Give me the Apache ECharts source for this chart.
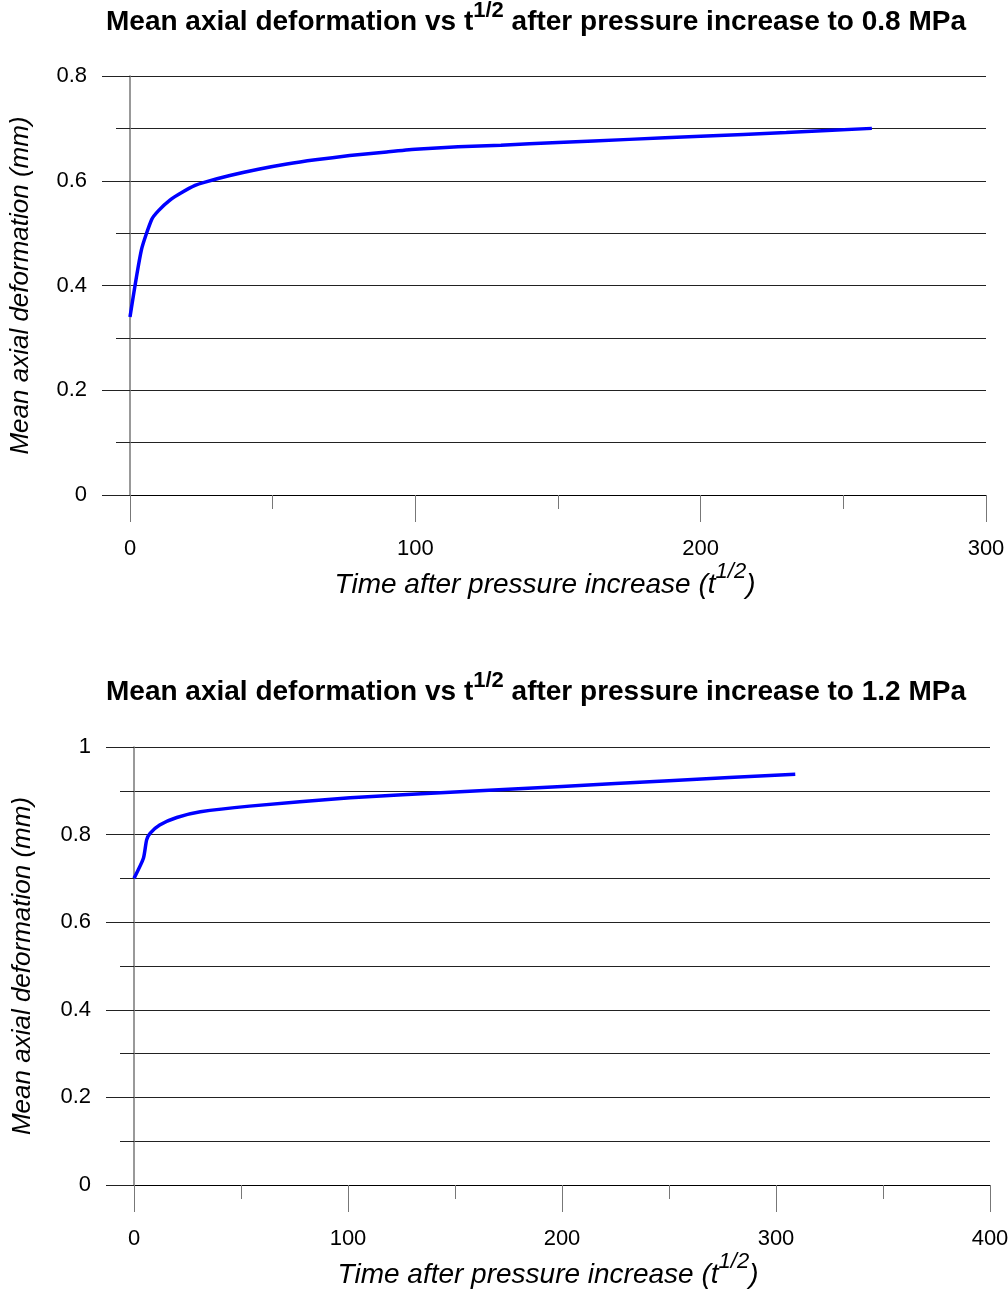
<!DOCTYPE html>
<html>
<head>
<meta charset="utf-8">
<script src="https://cdn.jsdelivr.net/npm/echarts@6/dist/echarts.min.js"></script>
<style>
  html, body { margin: 0; padding: 0; background: #fff; }
  #chart { width: 1008px; height: 1290px; }
</style>
</head>
<body>
<div id="chart"></div>
<script>
// Mean axial deformation after a pressure increase to 0.8 MPa: [t^1/2, mm]
const series08 = [
  [0, 0.340], [4, 0.468], [7.6, 0.526], [10, 0.543], [14, 0.563], [18, 0.577],
  [22.8, 0.591], [26, 0.597], [35, 0.610], [45, 0.622], [55, 0.632], [65, 0.640],
  [77, 0.648], [90, 0.655], [100, 0.660], [115, 0.665], [130, 0.668], [150, 0.673],
  [175, 0.679], [200, 0.685], [230, 0.692], [260, 0.700]
];
// Mean axial deformation after a pressure increase to 1.2 MPa: [t^1/2, mm]
const series12 = [
  [0, 0.700], [4.4, 0.746], [5.9, 0.788], [7.5, 0.803], [12, 0.822], [20, 0.839],
  [31, 0.852], [54, 0.865], [101, 0.884], [150, 0.897], [200, 0.910], [250, 0.923],
  [309, 0.938]
];
const titles = [
  '{b|Mean axial deformation vs t}{s|1/2}{b| after pressure increase to 0.8 MPa}',
  '{b|Mean axial deformation vs t}{s|1/2}{b| after pressure increase to 1.2 MPa}'
];
const xName = '{i|Time after pressure increase (t}{si|1/2}{i|)}';
const yName = 'Mean axial deformation (mm)';
const xRanges = [{ max: 300, interval: 100 }, { max: 400, interval: 100 }];
const yRanges = [{ max: 0.8, interval: 0.2 }, { max: 1, interval: 0.2 }];

const FONT = '"Liberation Sans", Arial, sans-serif';

const titleRich = {
  b: { fontFamily: FONT, fontSize: 28, fontWeight: 'bold', color: '#000', lineHeight: 36, verticalAlign: 'bottom' },
  s: { fontFamily: FONT, fontSize: 22, fontWeight: 'bold', color: '#000', lineHeight: 36, verticalAlign: 'top' }
};
const nameRich = {
  i: { fontFamily: FONT, fontSize: 28, fontStyle: 'italic', color: '#000', lineHeight: 38, verticalAlign: 'bottom' },
  si: { fontFamily: FONT, fontSize: 22, fontStyle: 'italic', color: '#000', lineHeight: 38, verticalAlign: 'top' }
};

const grids = [
  { left: 130, right: 22, top: 76, height: 419, containLabel: false, outerBoundsMode: 'none' },
  { left: 134, right: 18, top: 747, height: 438, containLabel: false, outerBoundsMode: 'none' }
];

function xAxisFor(i) {
  return {
    type: 'value', gridIndex: i, min: 0, max: xRanges[i].max, interval: xRanges[i].interval,
    name: xName, nameLocation: 'middle', nameGap: 66,
    nameTextStyle: { rich: nameRich, padding: [0, i === 0 ? 26 : 28, 0, 0] },
    axisLine: { show: true, lineStyle: { color: '#000', width: 1 } },
    axisTick: { show: true, inside: false, length: 27, lineStyle: { color: '#777', width: 1 } },
    minorTick: { show: true, splitNumber: 2, length: 14, lineStyle: { color: '#777', width: 1 } },
    splitLine: { show: false },
    axisLabel: { margin: 43, fontFamily: FONT, fontSize: 22, color: '#000' }
  };
}
function yAxisFor(i) {
  return {
    type: 'value', gridIndex: i, min: 0, max: yRanges[i].max, interval: yRanges[i].interval,
    name: yName, nameLocation: 'middle', nameGap: i === 0 ? 96 : 98, nameRotate: 90,
    nameTextStyle: { fontFamily: FONT, fontSize: 26, fontStyle: 'italic', color: '#000' },
    axisLine: { show: true, lineStyle: { color: '#777', width: 1.5 } },
    axisTick: { show: true, inside: false, length: 28, lineStyle: { color: '#222', width: 1 } },
    minorTick: { show: true, splitNumber: 2, length: 14, lineStyle: { color: '#222', width: 1 } },
    splitLine: { show: true, lineStyle: { color: '#222', width: 1 } },
    minorSplitLine: { show: true, lineStyle: { color: '#222', width: 1 } },
    axisLabel: { margin: 43, fontFamily: FONT, fontSize: 22, color: '#000',
      formatter: v => String(Math.round(v * 10) / 10) }
  };
}

const chart = echarts.init(document.getElementById('chart'), null, { renderer: 'canvas' });
chart.setOption({
  backgroundColor: '#fff',
  animation: false,
  title: [
    { text: titles[0], left: 106, top: 0, padding: 0, textStyle: { rich: titleRich } },
    { text: titles[1], left: 106, top: 670, padding: 0, textStyle: { rich: titleRich } }
  ],
  grid: grids,
  xAxis: [xAxisFor(0), xAxisFor(1)],
  yAxis: [yAxisFor(0), yAxisFor(1)],
  series: [
    { type: 'line', xAxisIndex: 0, yAxisIndex: 0, data: series08, showSymbol: false, smooth: 0.2,
      lineStyle: { color: '#0000ff', width: 3.5 }, z: 5 },
    { type: 'line', xAxisIndex: 1, yAxisIndex: 1, data: series12, showSymbol: false, smooth: 0.2,
      lineStyle: { color: '#0000ff', width: 3.5 }, z: 5 }
  ]
});
</script>
</body>
</html>
